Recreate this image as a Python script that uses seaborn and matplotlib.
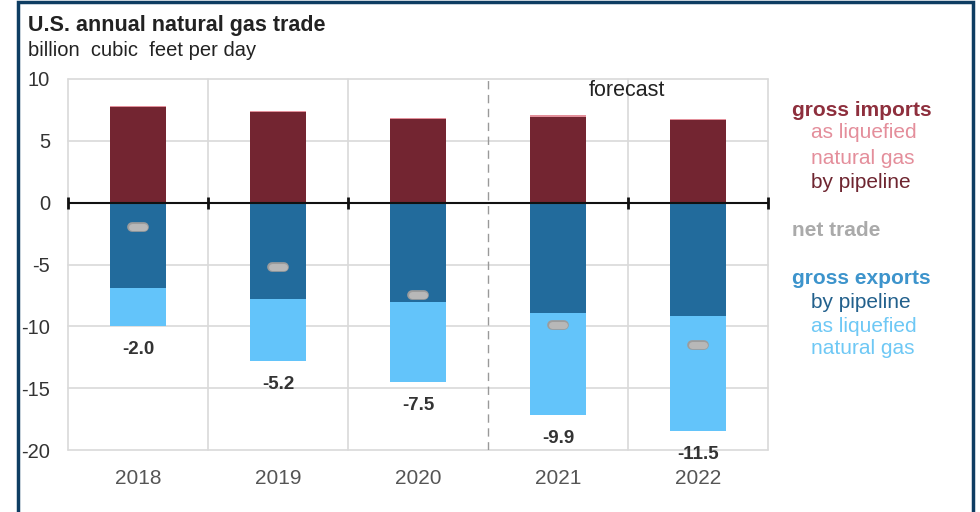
import matplotlib
matplotlib.use("Agg")
import matplotlib.pyplot as plt
import seaborn as sns
import pandas as pd
import numpy as np
from matplotlib.patches import Rectangle

years = ["2018", "2019", "2020", "2021", "2022"]
imports_pipeline = [7.7, 7.3, 6.75, 6.95, 6.65]
imports_lng = [0.1, 0.1, 0.1, 0.15, 0.15]
exports_pipeline = [-6.9, -7.8, -8.0, -8.9, -9.2]
exports_lng = [-3.1, -5.0, -6.5, -8.3, -9.3]
net_trade = [-2.0, -5.2, -7.5, -9.9, -11.5]
net_labels = ["-2.0", "-5.2", "-7.5", "-9.9", "-11.5"]
yticks = [10, 5, 0, -5, -10, -15, -20]

df = pd.DataFrame({
    "year": years,
    "imp_pipe": imports_pipeline,
    "imp_total": np.array(imports_pipeline) + np.array(imports_lng),
    "exp_pipe": exports_pipeline,
    "exp_total": np.array(exports_pipeline) + np.array(exports_lng),
    "net": net_trade,
})

sns.set_theme(style="white")
plt.rcParams['font.family'] = ['Liberation Sans', 'DejaVu Sans']

C_IMP_PIPE = "#732531"
C_IMP_LNG = "#e3909b"
C_EXP_PIPE = "#226b9c"
C_EXP_LNG = "#63c4fa"

fig = plt.figure(figsize=(9.8, 5.12), dpi=100)
ax = fig.add_axes([68/980, 1-450/512, 700/980, 371/512])

bw = 0.4
sns.barplot(data=df, x="year", y="imp_total", color=C_IMP_LNG, width=bw,
            saturation=1, ax=ax, zorder=3, linewidth=0)
sns.barplot(data=df, x="year", y="imp_pipe", color=C_IMP_PIPE, width=bw,
            saturation=1, ax=ax, zorder=3, linewidth=0)
sns.barplot(data=df, x="year", y="exp_total", color=C_EXP_LNG, width=bw,
            saturation=1, ax=ax, zorder=3, linewidth=0)
sns.barplot(data=df, x="year", y="exp_pipe", color=C_EXP_PIPE, width=bw,
            saturation=1, ax=ax, zorder=3, linewidth=0)

xs = np.arange(len(years))
# net trade markers
for x, v in zip(xs, net_trade):
    ax.plot([x - 0.045, x + 0.045], [v, v], color="#9c9c9c", lw=7,
            solid_capstyle="round", zorder=5)
    ax.plot([x - 0.045, x + 0.045], [v, v], color="#b8b8b8", lw=5,
            solid_capstyle="round", zorder=6)

# net labels below bars
for x, lo, lab in zip(xs, df["exp_total"], net_labels):
    ax.text(x, lo - 1.9, lab, ha="center", va="center", fontsize=13.5,
            fontweight="bold", color="#333333", zorder=6)

ax.set_xlim(-0.5, len(years) - 0.5)
ax.set_ylim(-20, 10)
ax.set_yticks(yticks)
ax.set_yticklabels([str(t) for t in yticks])
ax.set_xlabel("")
ax.set_ylabel("")
for s in ax.spines.values():
    s.set_visible(False)

# gridlines
for t in yticks:
    if t != 0:
        ax.axhline(t, color="#d9d9d9", lw=1.2, zorder=1, clip_on=False)
bounds = np.arange(-0.5, len(years), 1.0)
for b in bounds:
    if abs(b - 2.5) > 1e-6:
        ax.axvline(b, color="#d9d9d9", lw=1.2, zorder=1, clip_on=False)
ax.axvline(2.5, color="#999999", lw=1, ls=(0, (6, 4)), zorder=2)

# zero line with ticks
ax.axhline(0, color="#111111", lw=1.5, zorder=7)
tb = [b for b in bounds if abs(b - 2.5) > 1e-6]
ax.plot(tb, [0]*len(tb), ls="none", marker="|", markersize=9, mew=2,
        color="#111111", zorder=7, clip_on=False)

ax.tick_params(axis="both", length=0)
ax.tick_params(axis="y", labelsize=14.5, labelcolor="#333333", pad=13)
ax.tick_params(axis="x", labelsize=15, labelcolor="#555555", pad=14)
for lab in ax.get_yticklabels():
    lab.set_horizontalalignment("right")

ax.text(3.22, 9.1, "forecast", fontsize=15.5, color="#222222", ha="left", va="center")

# titles
fig.text(28/980, 1-25/512, "U.S. annual natural gas trade", fontsize=15.5,
         fontweight="bold", color="#222222", va="center", ha="left")
fig.text(28/980, 1-50/512, "billion  cubic  feet per day", fontsize=14.5,
         color="#222222", va="center", ha="left")

# legend text
leg = [
    (792, 110, "gross imports", "#8e2f3d", "bold", 15),
    (811, 133, "as liquefied", "#e48e9b", "normal", 15),
    (811, 158, "natural gas", "#e48e9b", "normal", 15),
    (811, 183, "by pipeline", "#6e2530", "normal", 15),
    (792, 231, "net trade", "#aaaaaa", "bold", 15),
    (792, 278, "gross exports", "#3d94cc", "bold", 15),
    (811, 302, "by pipeline", "#22608c", "normal", 15),
    (811, 326, "as liquefied", "#6ec8f5", "normal", 15),
    (811, 349, "natural gas", "#6ec8f5", "normal", 15),
]
for x, y, t, c, w, fs in leg:
    fig.text(x/980, 1-y/512, t, color=c, fontweight=w, fontsize=fs,
             va="center", ha="left")

# border frame
fig.patches.append(Rectangle((18/980, -0.02), (973-18)/980, 1.02 - 2/512,
                             transform=fig.transFigure, fill=False,
                             edgecolor="#0e3d62", lw=2.5))

fig.savefig("out.png", dpi=100)
